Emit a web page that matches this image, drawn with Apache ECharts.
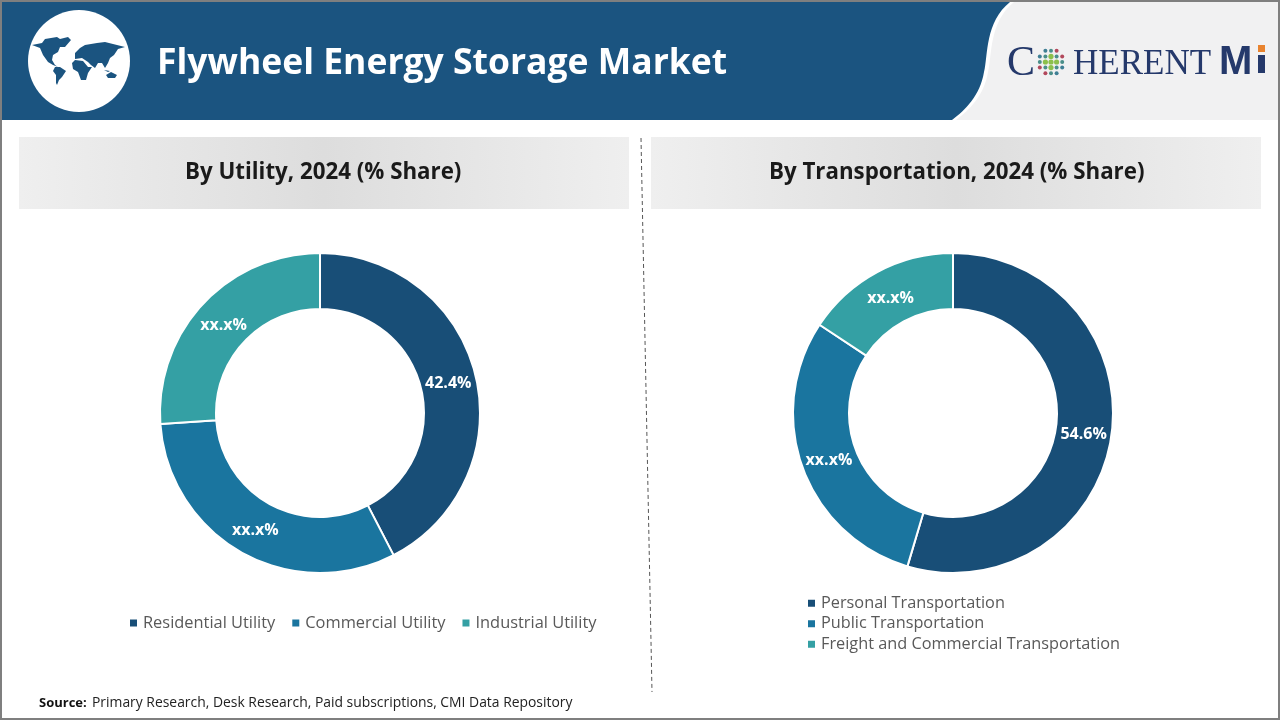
<!DOCTYPE html>
<html>
<head>
<meta charset="utf-8">
<style>html,body{margin:0;padding:0;background:#fff}#main{width:1280px;height:720px}</style>
<script src="https://cdn.jsdelivr.net/npm/echarts@6/dist/echarts.min.js"></script>
</head>
<body>
<div id="main"></div>
<script>
var utilityNames = ['Residential Utility', 'Commercial Utility', 'Industrial Utility'];
var utilityValues = [42.4, 31.5, 26.1];
var utilityLabels = ['42.4%', 'xx.x%', 'xx.x%'];
var transportNames = ['Personal Transportation', 'Public Transportation', 'Freight and Commercial Transportation'];
var transportValues = [54.6, 29.7, 15.7];
var transportLabels = ['54.6%', 'xx.x%', 'xx.x%'];
var sliceColors = ['#184e77', '#1a759f', '#34a0a4'];

var titleFont = '"Open Sans", "Noto Sans", sans-serif';
var myChart = echarts.init(document.getElementById('main'));

function pieSeries(name, names, values, labels, cx) {
  return {
    name: name,
    type: 'pie',
    center: [cx, 413],
    radius: [104, 160],
    startAngle: 90,
    clockwise: true,
    silent: true,
    animation: false,
    itemStyle: { borderColor: '#fff', borderWidth: 2 },
    label: {
      show: true,
      position: 'inside',
      color: '#fff',
      fontFamily: titleFont,
      fontSize: 16,
      fontWeight: 'bold',
      formatter: function (p) { return labels[p.dataIndex]; }
    },
    // pull the labels a little toward the hole, and down a touch
    labelLayout: function (p) {
      var r = p.labelRect;
      var dx = r.x + r.width / 2 - cx, dy = r.y + r.height / 2 - 413;
      var d = Math.sqrt(dx * dx + dy * dy);
      return { dx: -dx / d * 3, dy: -dy / d * 3 + 2 };
    },
    labelLine: { show: false },
    data: names.map(function (n, i) {
      return { name: n, value: values[i], itemStyle: { color: sliceColors[i] } };
    })
  };
}

// header swoosh, graphic has no path type so sample the curve into a polygon
function swoosh(dx, right, top) {
  var segs = [
    [[1010, 2], [985, 22], [988, 55], [984, 72]],
    [[984, 72], [980, 96], [965, 110], [952, 120]]
  ];
  var pts = [];
  segs.forEach(function (s) {
    for (var i = 0; i <= 16; i++) {
      var t = i / 16, u = 1 - t;
      pts.push([
        u * u * u * s[0][0] + 3 * u * u * t * s[1][0] + 3 * u * t * t * s[2][0] + t * t * t * s[3][0] + dx,
        u * u * u * s[0][1] + 3 * u * u * t * s[1][1] + 3 * u * t * t * s[2][1] + t * t * t * s[3][1]
      ]);
    }
  });
  pts.push([right, 120], [right, top]);
  return pts;
}

// rough outline of the continents on the globe badge
var continents = [
  [[32,45],[42,43],[45,39],[57,37],[60,39],[68,37],[71,40],[65,47],[60,47],[58,52],[53,55],[52,60],[55,65],[58,67],[53,65],[48,62],[43,55],[40,48]],
  [[55,67],[60,67],[66,71],[62,77],[59,80],[57,85],[56,83],[56,75],[53,71]],
  [[72,63],[75,60],[83,61],[88,67],[92,67],[88,73],[86,80],[81,80],[78,72],[73,69]],
  [[75,59],[75,53],[80,48],[85,45],[97,43],[105,42],[125,47],[118,49],[114,55],[110,58],[108,63],[105,68],[102,63],[98,63],[95,68],[91,65],[88,62],[82,58]],
  [[106,75],[111,72],[117,75],[115,78],[108,78]],
  [[104,70],[110,71],[108,72]]
];
var globe = continents.map(function (c) {
  return { type: 'polygon', shape: { points: c }, style: { fill: '#1b5480' } };
});

// logo dots
var logoDots = [];
[-2, -1, 0, 1, 2].forEach(function (a) {
  [-2, -1, 0, 1, 2].forEach(function (b) {
    if (Math.abs(a) + Math.abs(b) > 3) return;
    var inner = Math.abs(a) + Math.abs(b) < 2;
    var edge = Math.abs(a) + Math.abs(b) === 3;
    logoDots.push({
      type: 'circle',
      shape: { cx: 1051 + a * 5.6, cy: 62 + b * 5.6, r: inner ? 2.6 : 2 },
      style: { fill: inner ? '#8cc04b' : edge ? (a * b < 0 ? '#b2485c' : '#3f7f95') : '#4a8f8a' }
    });
  });
});

function panelFill() {
  return {
    type: 'linear', x: 0, y: 0, x2: 1, y2: 0,
    colorStops: [
      { offset: 0, color: '#efefef' },
      { offset: 0.5, color: '#dddddd' },
      { offset: 1, color: '#efefef' }
    ]
  };
}

var graphics = [
  { type: 'rect', shape: { x: 0, y: 0, width: 1280, height: 120 }, style: { fill: '#1b5480' } },
  { type: 'polygon', shape: { points: swoosh(0, 1280, 2) }, style: { fill: '#fff' } },
  { type: 'polygon', shape: { points: swoosh(4, 1278, 2) }, style: { fill: '#f1f1f2' } },
  { type: 'circle', shape: { cx: 79, cy: 61, r: 51 }, style: { fill: '#fff' } }
].concat(globe).concat([
  { type: 'text', left: 157, top: 46, style: { text: 'Flywheel Energy Storage Market', fill: '#fff', font: 'bold 35.5px ' + titleFont } },
  { type: 'text', left: 1007, top: 43, style: { text: 'C', fill: '#25396b', font: '42px "Liberation Serif", serif' } },
  { type: 'text', left: 1073, top: 47, style: { text: 'HERENT', fill: '#25396b', font: '35px "Liberation Serif", serif' } },
  { type: 'text', left: 1219, top: 43, style: { text: 'M', fill: '#25396b', font: 'bold 40px "Liberation Sans", sans-serif' } },
  { type: 'rect', shape: { x: 1258, y: 45, width: 7, height: 7 }, style: { fill: '#e8832f' } },
  { type: 'rect', shape: { x: 1258, y: 55, width: 7, height: 18 }, style: { fill: '#25396b' } }
]).concat(logoDots).concat([
  { type: 'rect', shape: { x: 19, y: 137, width: 610, height: 72 }, style: { fill: panelFill() } },
  { type: 'rect', shape: { x: 651, y: 137, width: 610, height: 72 }, style: { fill: panelFill() } },
  { type: 'text', left: 185, top: 162, style: { text: 'By Utility, 2024 (% Share)', fill: '#1a1a1a', font: 'bold 22.3px ' + titleFont } },
  { type: 'text', left: 769, top: 162, style: { text: 'By Transportation, 2024 (% Share)', fill: '#1a1a1a', font: 'bold 22.3px ' + titleFont } },
  { type: 'line', shape: { x1: 641, y1: 138, x2: 652, y2: 692 }, style: { stroke: '#555', lineWidth: 1, lineDash: [4, 3] } },
  { type: 'text', left: 39, top: 697, style: { text: 'Source:', fill: '#111', font: 'bold 13px ' + titleFont } },
  { type: 'text', left: 92, top: 696, style: { text: 'Primary Research, Desk Research, Paid subscriptions, CMI Data Repository', fill: '#222', font: '13.9px ' + titleFont } },
  { type: 'rect', shape: { x: 1, y: 1, width: 1278, height: 718 }, style: { fill: 'none', stroke: '#7f7f7f', lineWidth: 2 } }
]);

var option = {
  animation: false,
  graphic: graphics,
  legend: [
    {
      data: utilityNames,
      left: 128,
      top: 615,
      padding: 0,
      orient: 'horizontal',
      icon: 'rect',
      itemWidth: 9,
      itemHeight: 9,
      itemGap: 15,
      textStyle: { color: '#595959', fontSize: 16.4, fontFamily: titleFont }
    },
    {
      data: transportNames,
      left: 806,
      top: 593,
      padding: 0,
      orient: 'vertical',
      icon: 'rect',
      itemWidth: 9,
      itemHeight: 9,
      itemGap: 0,
      textStyle: { color: '#595959', fontSize: 16.3, lineHeight: 20.5, fontFamily: titleFont }
    }
  ],
  series: [
    pieSeries('By Utility', utilityNames, utilityValues, utilityLabels, 320),
    pieSeries('By Transportation', transportNames, transportValues, transportLabels, 953)
  ]
};
myChart.setOption(option);
</script>
</body>
</html>
